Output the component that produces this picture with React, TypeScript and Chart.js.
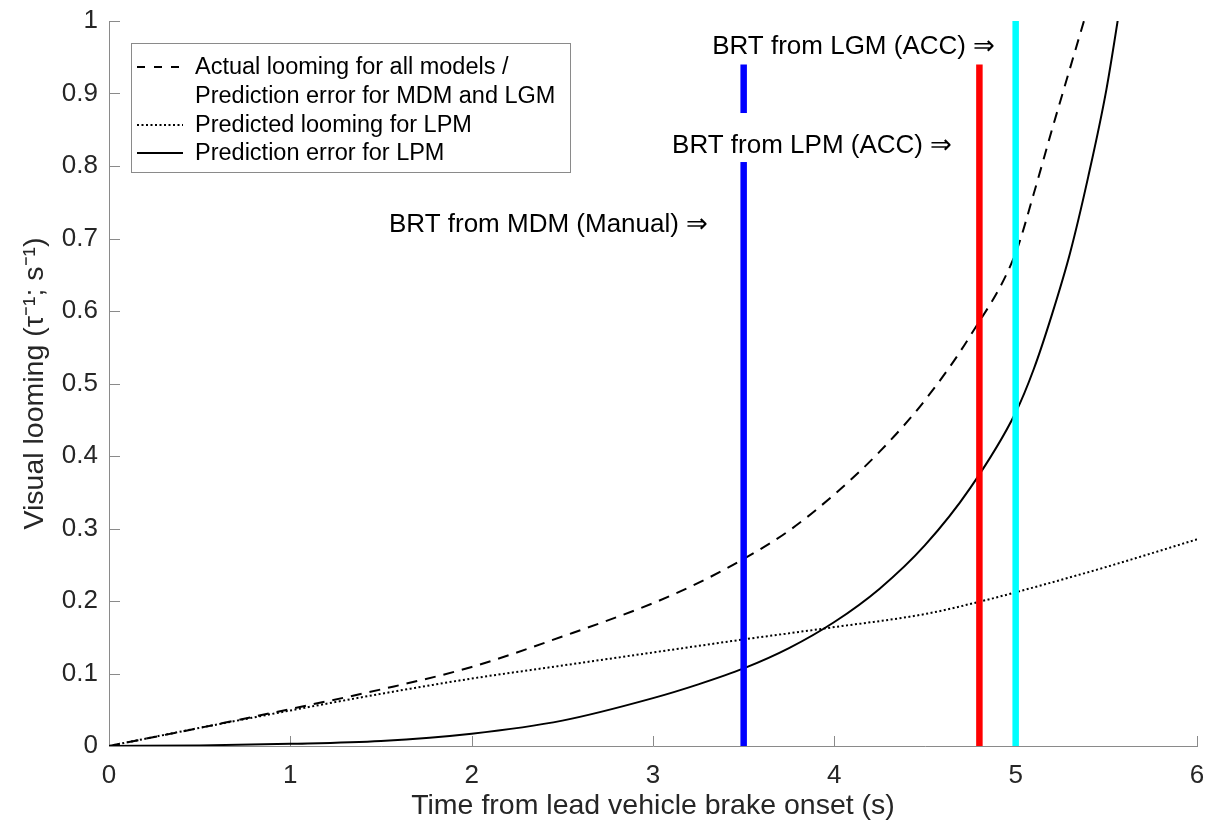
import React, { useEffect, useRef } from "react";
import { Chart, registerables } from "chart.js";

Chart.register(...registerables);

// ---------- data ----------
const actualTime = [0, 0.5, 1, 1.5, 2, 2.5, 3, 3.25, 3.5, 3.75, 4, 4.25, 4.5, 4.75, 5, 5.1, 5.2, 5.3, 5.4];
const actualLooming = [0, 0.025, 0.051, 0.078, 0.109, 0.151, 0.197, 0.225, 0.258, 0.297, 0.347, 0.406, 0.477, 0.566, 0.68, 0.762, 0.85, 0.935, 1.02];

const predictedTime = [0, 0.5, 1, 1.5, 2, 2.5, 3, 3.5, 4, 4.5, 4.8, 5, 5.5, 6];
const predictedLooming = [0, 0.025, 0.049, 0.072, 0.093, 0.111, 0.129, 0.147, 0.164, 0.182, 0.199, 0.212, 0.247, 0.285];

const errorTime = [0, 0.5, 1, 1.5, 2, 2.5, 3, 3.25, 3.5, 3.75, 4, 4.25, 4.5, 4.75, 5, 5.1, 5.2, 5.3, 5.4, 5.5, 5.6];
const errorLPM = [0, 0.0008, 0.003, 0.007, 0.017, 0.035, 0.066, 0.085, 0.107, 0.135, 0.171, 0.217, 0.277, 0.356, 0.46, 0.52, 0.595, 0.68, 0.785, 0.905, 1.06];

const brtTimes = [3.5, 4.8, 5.0];
const brtTops = [0.94, 0.94, 1.0];
const brtColors = ["#0000ff", "#ff0000", "#00ffff"];
const brtLabels = ["BRT from MDM (Manual) \u21D2", "BRT from LPM (ACC) \u21D2", "BRT from LGM (ACC) \u21D2"];

const xTicks = [0, 1, 2, 3, 4, 5, 6];
const yTicks = [0, 0.1, 0.2, 0.3, 0.4, 0.5, 0.6, 0.7, 0.8, 0.9, 1];
const yTickLabels = ["0", "0.1", "0.2", "0.3", "0.4", "0.5", "0.6", "0.7", "0.8", "0.9", "1"];

const legendLines = [
  ["Actual looming for all models /", "Prediction error for MDM and LGM"],
  ["Predicted looming for LPM"],
  ["Prediction error for LPM"],
];

const xTitle = "Time from lead vehicle brake onset (s)";
const yTitle = "Visual looming (\u03C4\u207B\u00B9; s\u207B\u00B9)";

// ---------- layout / style (not data) ----------
const FONT = "'Liberation Sans', Arial, Helvetica, sans-serif";
const TEXT = "#262626";
const AXIS = "#8a8a8a";
const labelAnchors = [
  { x: 3.304, y: 0.722 },
  { x: 4.65, y: 0.831 },
  { x: 4.887, y: 0.968 },
];

const inwardTicks = {
  id: "inwardTicks",
  beforeDatasetsDraw(chart: any) {
    const { ctx, chartArea, scales } = chart;
    const x = scales.x;
    const y = scales.y;
    ctx.save();
    ctx.strokeStyle = AXIS;
    ctx.lineWidth = 1;
    ctx.beginPath();
    xTicks.forEach((v) => {
      const px = Math.round(x.getPixelForValue(v)) + 0.5;
      ctx.moveTo(px, chartArea.bottom);
      ctx.lineTo(px, chartArea.bottom - 10);
    });
    yTicks.forEach((v) => {
      const py = Math.round(y.getPixelForValue(v)) + 0.5;
      ctx.moveTo(chartArea.left, py);
      ctx.lineTo(chartArea.left + 11, py);
    });
    ctx.stroke();
    ctx.restore();
  },
};

const annotations = {
  id: "brtAnnotations",
  afterDatasetsDraw(chart: any) {
    const { ctx, scales } = chart;
    ctx.save();
    ctx.font = `26px ${FONT}`;
    ctx.textAlign = "right";
    ctx.textBaseline = "alphabetic";
    brtLabels.forEach((label, i) => {
      const a = labelAnchors[i];
      const right = scales.x.getPixelForValue(a.x);
      const base = scales.y.getPixelForValue(a.y) + 9.5;
      const w = ctx.measureText(label).width;
      ctx.fillStyle = "#ffffff";
      ctx.fillRect(right - w - 4, base - 40, w + 8, 49);
      ctx.fillStyle = "#000000";
      ctx.fillText(label, right, base);
    });
    ctx.restore();
  },
};

const customLegend = {
  id: "customLegend",
  afterDraw(chart: any) {
    const { ctx } = chart;
    const left = 131, top = 43, right = 570, bottom = 172;
    ctx.save();
    ctx.fillStyle = "#ffffff";
    ctx.fillRect(left, top, right - left, bottom - top);
    ctx.strokeStyle = AXIS;
    ctx.lineWidth = 1;
    ctx.strokeRect(left + 0.5, top + 0.5, right - left, bottom - top);
    const rows = [67, 96, 125, 153];
    const styles = [
      { dash: [8, 9], row: 0 },
      { dash: [2, 2.5], row: 2 },
      { dash: [], row: 3 },
    ];
    ctx.font = `23.5px ${FONT}`;
    ctx.textAlign = "left";
    ctx.textBaseline = "middle";
    ctx.fillStyle = "#000000";
    let r = 0;
    legendLines.forEach((lines, i) => {
      const st = styles[i];
      ctx.beginPath();
      ctx.setLineDash(st.dash);
      ctx.strokeStyle = "#000000";
      ctx.lineWidth = 2;
      ctx.moveTo(137, rows[st.row]);
      ctx.lineTo(183, rows[st.row]);
      ctx.stroke();
      lines.forEach((t) => {
        ctx.fillText(t, 195, rows[r] + 1);
        r++;
      });
    });
    ctx.restore();
  },
};

function toPoints(xs: number[], ys: number[]) {
  return xs.map((x, i) => ({ x, y: ys[i] }));
}

export default function App() {
  const ref = useRef<HTMLCanvasElement | null>(null);

  useEffect(() => {
    if (!ref.current) return;
    const curveBase = {
      showLine: true,
      pointRadius: 0,
      borderWidth: 2,
      borderColor: "#000000",
      backgroundColor: "#000000",
      fill: false,
      cubicInterpolationMode: "monotone" as const,
      order: 2,
    };
    const datasets: any[] = [
      { ...curveBase, label: legendLines[0].join(" "), data: toPoints(actualTime, actualLooming), borderDash: [11, 8] },
      { ...curveBase, label: legendLines[1][0], data: toPoints(predictedTime, predictedLooming), borderDash: [2, 2.5] },
      { ...curveBase, label: legendLines[2][0], data: toPoints(errorTime, errorLPM) },
      ...brtTimes.map((t, i) => ({
        label: brtLabels[i],
        showLine: true,
        pointRadius: 0,
        borderWidth: 6.5,
        borderColor: brtColors[i],
        backgroundColor: brtColors[i],
        borderCapStyle: "butt",
        data: [
          { x: t, y: 0 },
          { x: t, y: brtTops[i] },
        ],
        order: 1,
      })),
    ];

    const chart = new Chart(ref.current, {
      type: "scatter",
      data: { datasets },
      plugins: [inwardTicks, annotations, customLegend],
      options: {
        animation: false,
        responsive: false,
        devicePixelRatio: 1,
        layout: { padding: { top: 21, right: 14, left: 0, bottom: 0 } },
        plugins: { legend: { display: false }, tooltip: { enabled: false } },
        scales: {
          x: {
            type: "linear",
            min: 0,
            max: 6,
            afterBuildTicks: (s: any) => {
              s.ticks = xTicks.map((v) => ({ value: v }));
            },
            afterFit: (s: any) => {
              s.height = 82;
              s.paddingLeft = 0;
              s.paddingRight = 0;
              s.paddingTop = 0;
              s.paddingBottom = 0;
            },
            grid: { display: false, drawTicks: false },
            border: { display: true, color: AXIS, width: 1 },
            ticks: {
              autoSkip: false,
              maxRotation: 0,
              padding: 14,
              color: TEXT,
              font: { family: FONT, size: 26 },
              callback: (v: any) => String(v),
            },
            title: {
              display: true,
              text: xTitle,
              color: TEXT,
              font: { family: FONT, size: 28.5 },
              padding: 5,
            },
          },
          y: {
            type: "linear",
            min: 0,
            max: 1,
            afterBuildTicks: (s: any) => {
              s.ticks = yTicks.map((v) => ({ value: v }));
            },
            afterFit: (s: any) => {
              s.width = 109;
              s.paddingLeft = 0;
              s.paddingRight = 0;
              s.paddingTop = 0;
              s.paddingBottom = 0;
            },
            grid: { display: false, drawTicks: false },
            border: { display: true, color: AXIS, width: 1 },
            ticks: {
              autoSkip: false,
              padding: 11,
              color: TEXT,
              font: { family: FONT, size: 26 },
              callback: (_v: any, i: number) => yTickLabels[i],
            },
            title: {
              display: true,
              text: yTitle,
              color: TEXT,
              font: { family: FONT, size: 28.5 },
              padding: 18,
            },
          },
        },
      },
    });
    return () => chart.destroy();
  }, []);

  return (
    <div style={{ position: "absolute", left: 0, top: 0, width: 1211, height: 828, background: "#ffffff" }}>
      <canvas ref={ref} width={1211} height={828} />
    </div>
  );
}
